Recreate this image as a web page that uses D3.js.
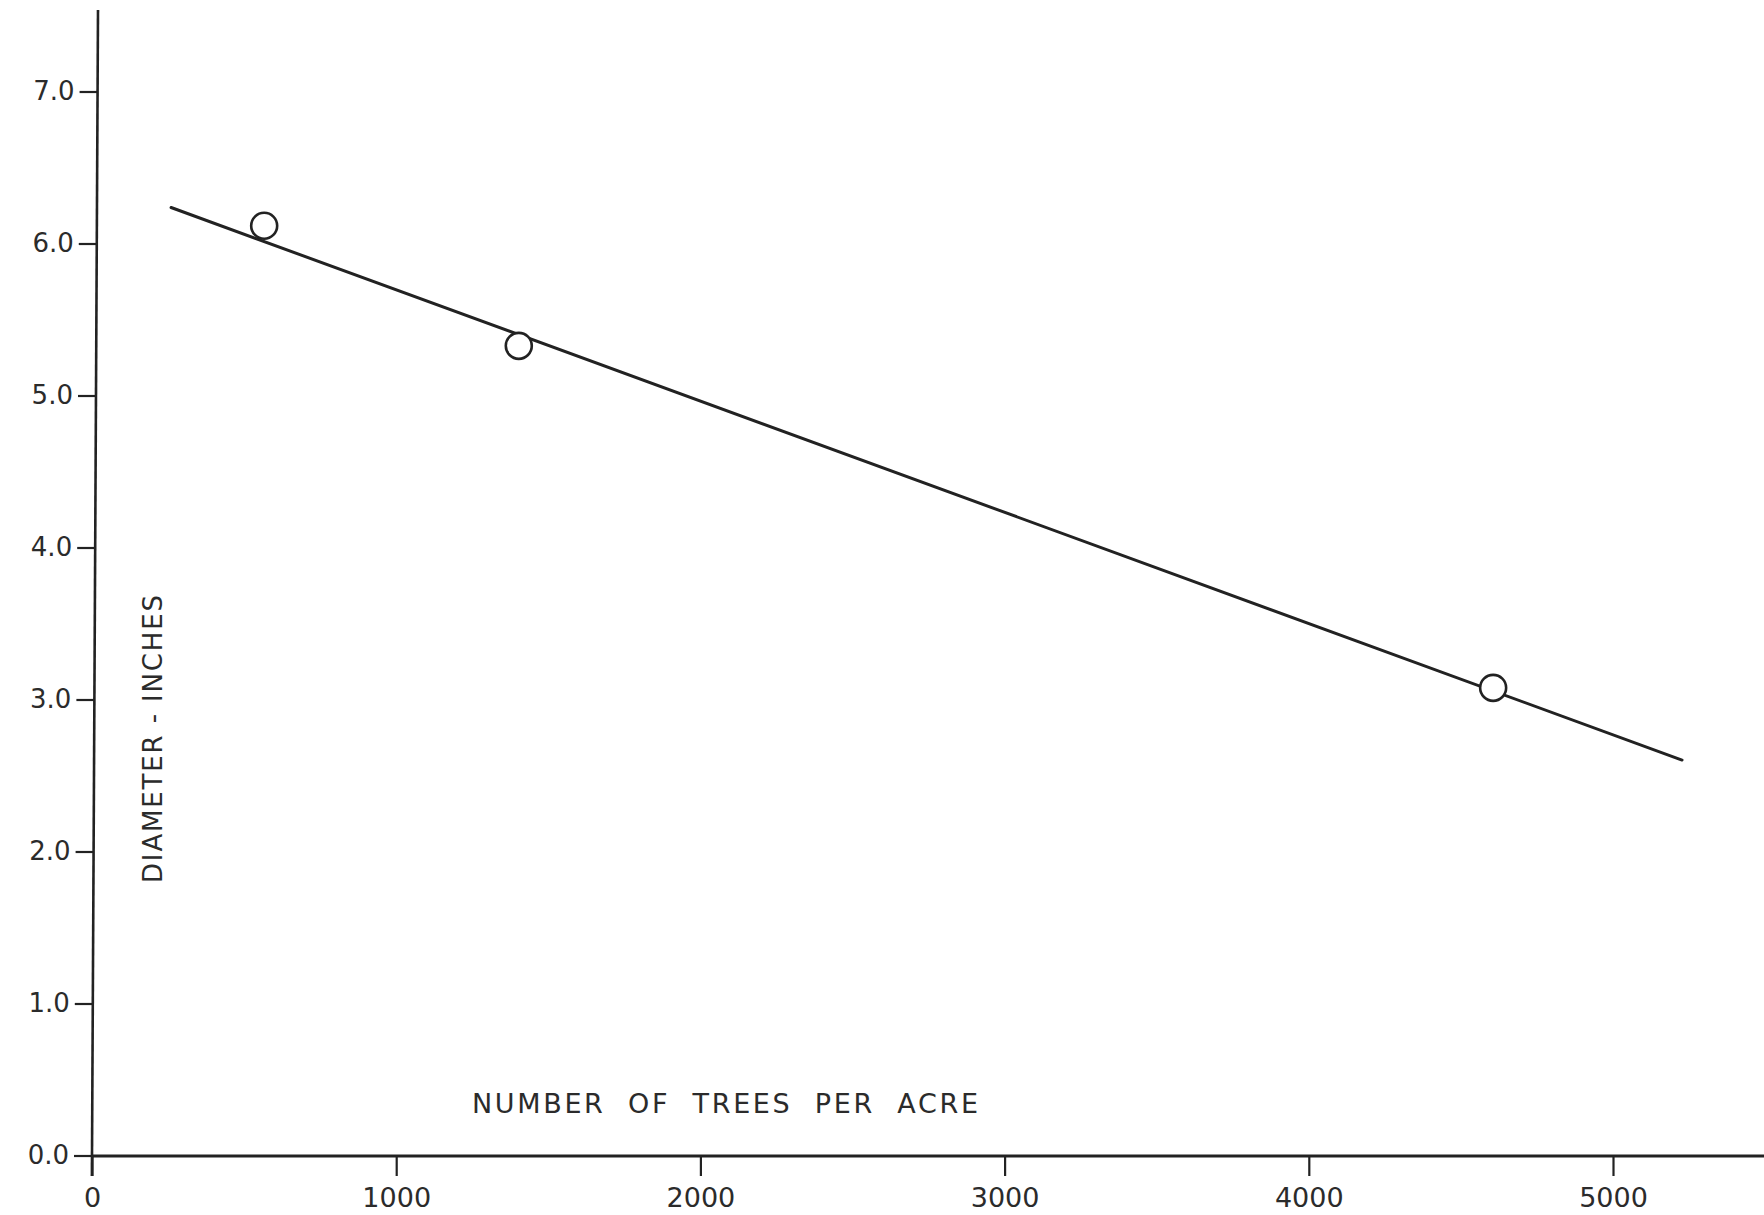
<!DOCTYPE html>
<html>
<head>
<meta charset="utf-8">
<script src="https://cdn.jsdelivr.net/npm/d3@7"></script>
<style>
  body { margin: 0; background: #fff; }
  svg { display: block; }
  text { font-family: "DejaVu Sans", sans-serif; fill: #2b2b2b; }
</style>
</head>
<body>
<div id="chart"></div>
<script>
// tick values on both axes
var xTicks = [0, 1000, 2000, 3000, 4000, 5000];
var yTicks = [0, 1, 2, 3, 4, 5, 6, 7];

// observed plots (circles)
var trees = [566, 1403, 4606];
var diameter = [6.12, 5.33, 3.08];

// fitted line, read at its two ends
var lineTrees = [260, 5227];
var lineDiameter = [6.24, 2.605];

var xTitle = "NUMBER  OF  TREES  PER  ACRE";
var yTitle = "DIAMETER - INCHES";

var width = 1764, height = 1215;

var svg = d3.select("#chart").append("svg")
  .attr("width", width)
  .attr("height", height);

var x = d3.scaleLinear().domain([0, 5000]).range([92, 1613]);
var y = d3.scaleLinear().domain([0, 7]).range([1156, 92]);

var ink = "#222";

// the hand drawn y axis leans a little: x=92 at the bottom, x=98 at the top
var axisTop = 10, axisBottom = 1176;
function lean(py) { return 92 + 6 * (y(0) - py) / (y(0) - axisTop); }

// x axis
var xAxis = svg.append("g")
  .attr("transform", "translate(0," + y(0) + ")")
  .call(d3.axisBottom(x).tickValues(xTicks).tickFormat(d3.format("d")).tickSize(20).tickPadding(12));
xAxis.select(".domain").remove();
xAxis.selectAll(".tick line").attr("stroke", ink).attr("stroke-width", 2.2);
xAxis.selectAll(".tick text").style("font-size", "27px").attr("fill", "#2b2b2b");

svg.append("line")
  .attr("x1", x(0)).attr("x2", width)
  .attr("y1", y(0)).attr("y2", y(0))
  .attr("stroke", ink).attr("stroke-width", 3);

// y axis
var yAxis = svg.append("g")
  .call(d3.axisLeft(y).tickValues(yTicks).tickFormat(d3.format(".1f")).tickSize(18).tickPadding(5));
yAxis.select(".domain").remove();
yAxis.selectAll(".tick")
  .attr("transform", function (d) { return "translate(" + lean(y(d)) + "," + y(d) + ")"; });
yAxis.selectAll(".tick line").attr("stroke", ink).attr("stroke-width", 2.2);
yAxis.selectAll(".tick text").style("font-size", "26px").attr("fill", "#2b2b2b");

svg.append("line")
  .attr("x1", lean(axisTop)).attr("x2", lean(axisBottom))
  .attr("y1", axisTop).attr("y2", axisBottom)
  .attr("stroke", ink).attr("stroke-width", 2.6);

// fitted line
var fit = lineTrees.map(function (d, i) { return [d, lineDiameter[i]]; });
svg.append("path")
  .datum(fit)
  .attr("fill", "none")
  .attr("stroke", ink)
  .attr("stroke-width", 3)
  .attr("stroke-linecap", "round")
  .attr("d", d3.line().x(function (d) { return x(d[0]); }).y(function (d) { return y(d[1]); }));

// points
var pts = trees.map(function (d, i) { return { t: d, dia: diameter[i] }; });
svg.selectAll("circle.pt")
  .data(pts)
  .enter().append("circle")
  .attr("class", "pt")
  .attr("cx", function (d) { return x(d.t); })
  .attr("cy", function (d) { return y(d.dia); })
  .attr("r", 13)
  .attr("fill", "#fff")
  .attr("stroke", ink)
  .attr("stroke-width", 2.6);

// axis titles
svg.append("text")
  .attr("x", 472)
  .attr("y", 1113)
  .attr("textLength", 506)
  .attr("lengthAdjust", "spacing")
  .style("font-size", "27px")
  .style("white-space", "pre")
  .text(xTitle);

svg.append("text")
  .attr("transform", "translate(162,883) rotate(-90)")
  .attr("textLength", 288)
  .attr("lengthAdjust", "spacing")
  .style("font-size", "26px")
  .text(yTitle);
</script>
</body>
</html>
